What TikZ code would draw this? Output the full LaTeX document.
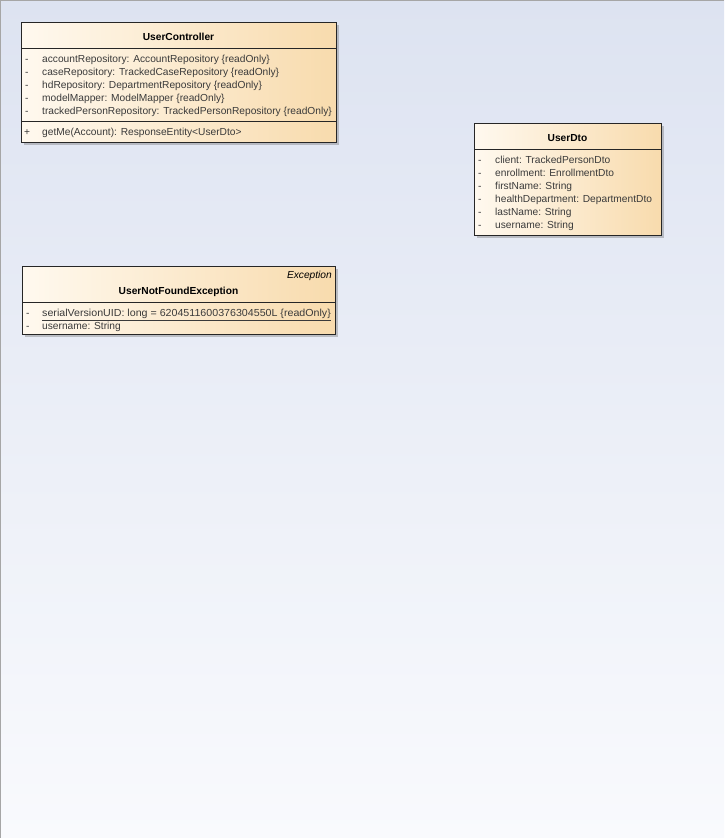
\documentclass[tikz,border=0pt]{standalone}
\usepackage{fontspec}
\setmainfont{Liberation Sans}
\usetikzlibrary{shadows}
\definecolor{bgtop}{HTML}{DDE3F1}
\definecolor{bgbot}{HTML}{F9FAFD}
\definecolor{boxl}{HTML}{FFF9EF}
\definecolor{boxr}{HTML}{F8DBAD}
\definecolor{ink}{HTML}{3A3A3A}
\begin{document}
\begin{tikzpicture}[x=1pt,y=-1pt,
  umlbox/.style={draw=black!85, line width=0.8pt, left color=boxl, right color=boxr,
    anchor=north west, inner sep=0pt,
    drop shadow={shadow xshift=3pt, shadow yshift=-3pt, opacity=0.35, fill=black!60}},
  sep/.style={draw=black!85, line width=0.8pt},
  ttl/.style={font=\fontsize{10.2}{12}\selectfont\bfseries, text=black, inner sep=0pt, text height=11.5pt, text depth=2pt},
  itm/.style={font=\fontsize{10.2}{12}\selectfont, text=ink, anchor=west, inner sep=0pt, text height=11.5pt, text depth=2pt},
  vis/.style={itm}]
\useasboundingbox (0,0) rectangle (724,838);
\shade[top color=bgtop, bottom color=bgbot] (0,0) rectangle (724,838);
\draw[black!35, line width=1pt] (0.5,838) -- (0.5,0.5) -- (724,0.5);

% UserController
\node[umlbox, minimum width=315pt, minimum height=120pt] (uc) at (21,22) {};
\node[ttl] (uct) at (178.5,36) {UserController};
\draw[sep] (21,48) -- (336,48);
\node[vis] (ucv1) at (25,58) {-};
\node[itm] (uca1) at (42,58) {accountRepository: AccountRepository \{readOnly\}};
\node[vis] (ucv2) at (25,71) {-};
\node[itm] (uca2) at (42,71) {caseRepository: TrackedCaseRepository \{readOnly\}};
\node[vis] (ucv3) at (25,84) {-};
\node[itm] (uca3) at (42,84) {hdRepository: DepartmentRepository \{readOnly\}};
\node[vis] (ucv4) at (25,97) {-};
\node[itm] (uca4) at (42,97) {modelMapper: ModelMapper \{readOnly\}};
\node[vis] (ucv5) at (25,110) {-};
\node[itm] (uca5) at (42,110) {trackedPersonRepository: TrackedPersonRepository \{readOnly\}};
\draw[sep] (21,121) -- (336,121);
\node[vis] (ucv6) at (24,131) {+};
\node[itm] (ucm1) at (42,131) {getMe(Account): ResponseEntity<UserDto>};

% UserDto
\node[umlbox, minimum width=187pt, minimum height=112pt] (ud) at (474,123) {};
\node[ttl] (udt) at (567.5,137) {UserDto};
\draw[sep] (474,149) -- (661,149);
\node[vis] (udv1) at (478,159) {-};
\node[itm] (uda1) at (495,159) {client: TrackedPersonDto};
\node[vis] (udv2) at (478,172) {-};
\node[itm] (uda2) at (495,172) {enrollment: EnrollmentDto};
\node[vis] (udv3) at (478,185) {-};
\node[itm] (uda3) at (495,185) {firstName: String};
\node[vis] (udv4) at (478,198) {-};
\node[itm] (uda4) at (495,198) {healthDepartment: DepartmentDto};
\node[vis] (udv5) at (478,211) {-};
\node[itm] (uda5) at (495,211) {lastName: String};
\node[vis] (udv6) at (478,224) {-};
\node[itm] (uda6) at (495,224) {username: String};

% UserNotFoundException
\node[umlbox, minimum width=313pt, minimum height=68pt] (un) at (22,266) {};
\node[itm, anchor=east, font=\fontsize{10.2}{12}\selectfont\itshape, text=black] (unst) at (332,274) {Exception};
\node[ttl] (unt) at (178.5,290) {UserNotFoundException};
\draw[sep] (22,302) -- (335,302);
\node[vis] (unv1) at (26,312) {-};
\node[itm] (una1) at (42,312) {\scalebox{1.045}[1]{\underline{serialVersionUID: long = 6204511600376304550L \{readOnly\}}}};
\node[vis] (unv2) at (26,325) {-};
\node[itm] (una2) at (42,325) {username: String};
\end{tikzpicture}
\end{document}
